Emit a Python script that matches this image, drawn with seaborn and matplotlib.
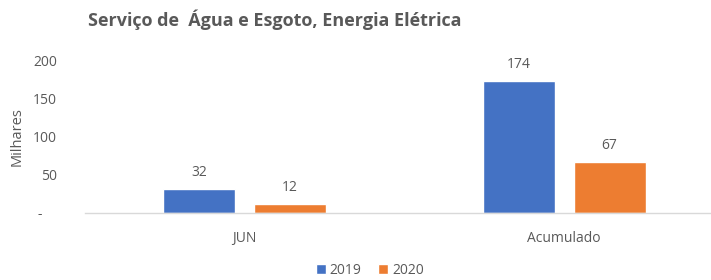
import numpy as np
import pandas as pd
import matplotlib.pyplot as plt
import seaborn as sns

# --- Data ---
categories = ["JUN", "Acumulado"]
years = ["2019", "2020"]
values_2019 = [32, 174]
values_2020 = [12, 67]
ytick_vals = [0, 50, 100, 150, 200]
ytick_labels = ["-    ", "50", "100", "150", "200"]

df = pd.DataFrame({
    "cat": categories * 2,
    "year": [years[0]] * 2 + [years[1]] * 2,
    "val": values_2019 + values_2020,
})

sns.set_theme(style="white")
plt.rcParams["font.family"] = ["Open Sans", "DejaVu Sans"]
grey = "#595959"

fig = plt.figure(figsize=(7.11, 2.8), dpi=100)
ax = fig.add_axes([85 / 711, 67 / 280, 626 / 711, 152 / 280])

sns.barplot(data=df, x="cat", y="val", hue="year", order=categories,
            hue_order=years, palette=["#4472C4", "#ED7D31"], saturation=1,
            width=0.57, gap=0.21, ax=ax, legend=True)

for cont in ax.containers:
    for bar in cont:
        h = bar.get_height()
        ax.annotate(f"{h:.0f}", (bar.get_x() + bar.get_width() / 2, h),
                    xytext=(0, 12), textcoords="offset points",
                    ha="center", va="center", fontsize=10, color=grey,
                    annotation_clip=False)

ax.set_xlim(-0.5, 1.46)
ax.set_ylim(0, 200)
ax.set_yticks(ytick_vals)
ax.set_yticklabels(ytick_labels)
ax.set_xlabel("")
ax.set_ylabel("Milhares", fontsize=10.5, color=grey, labelpad=6)
ax.tick_params(axis="y", length=0, pad=20, labelsize=10, labelcolor=grey)
ax.tick_params(axis="x", length=0, pad=13, labelsize=10, labelcolor=grey)
for s in ["top", "right", "left"]:
    ax.spines[s].set_visible(False)
ax.spines["bottom"].set_color("#D9D9D9")
ax.spines["bottom"].set_linewidth(1)

leg = ax.legend(loc="center", bbox_to_anchor=(370 / 711, 1 - 270 / 280),
                bbox_transform=fig.transFigure, ncol=2, frameon=False,
                fontsize=10, handlelength=0.7, handleheight=0.7,
                handletextpad=0.3, columnspacing=1.2)
for t in leg.get_texts():
    t.set_color(grey)

fig.text(88 / 711, 1 - 20 / 280, "Serviço de  Água e Esgoto, Energia Elétrica",
         fontsize=13, fontweight="bold", color=grey, va="center", ha="left")

fig.savefig("out.png", dpi=100)
